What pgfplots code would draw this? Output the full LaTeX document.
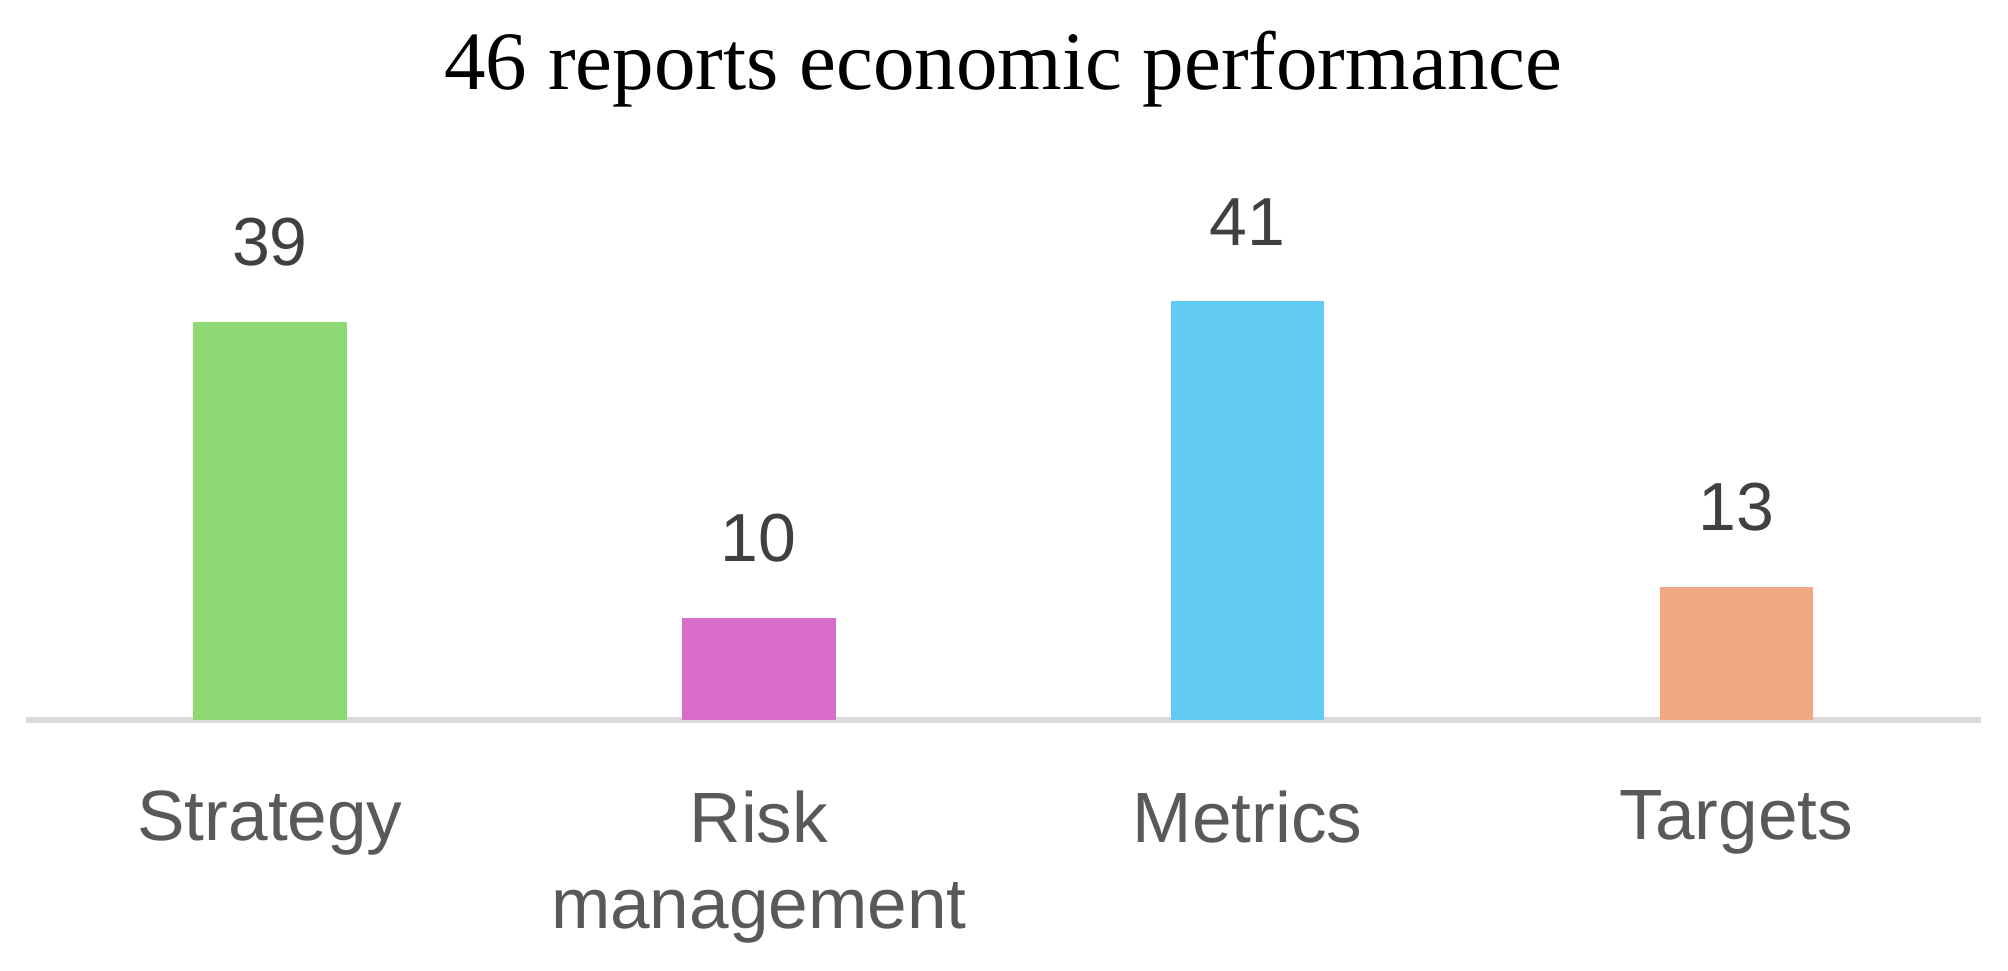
\documentclass[border=0pt]{standalone}
\usepackage{pgfplots}
\pgfplotsset{compat=1.18}
\usepackage{fontspec}
\setmainfont{Liberation Sans}
\newfontfamily\titlefont{Liberation Serif}
\definecolor{barGreen}{HTML}{8ED973}
\definecolor{barMagenta}{HTML}{D86DCB}
\definecolor{barCyan}{HTML}{61CBF3}
\definecolor{barOrange}{HTML}{F1A983}
\definecolor{axisGray}{HTML}{D9D9D9}
\definecolor{valText}{HTML}{404040}
\definecolor{catText}{HTML}{595959}
\begin{document}
\begin{tikzpicture}
\path[use as bounding box] (0,0) rectangle (502pt,242.75pt);
\begin{axis}[
    at={(6.4pt,62.85pt)}, anchor=south west,
    scale only axis,
    width=488.8pt, height=153pt,
    xmin=-0.5, xmax=3.5,
    ymin=0, ymax=60,
    ybar, bar width=38.4pt,
    axis x line=bottom, axis y line=none,
    x axis line style={-, draw=axisGray, line width=1.5pt},
    xtick={0,1,2,3},
    xticklabels={Strategy,{Risk\\management},Metrics,Targets},
    major tick length=0pt,
    ytick=\empty,
    xticklabel style={align=center, anchor=north, inner sep=0pt, yshift=-17.6pt,
        font=\fontsize{17.8}{21.5}\selectfont, text=catText},
    /pgf/number format/assume math mode=true,
    nodes near coords,
    every node near coord/.append style={anchor=base, inner sep=0pt, yshift=14pt,
        font=\fontsize{17}{19}\selectfont, text=valText},
    clip=false,
]
    % Strategy
    \addplot[fill=barGreen, draw=none, bar shift=0pt] coordinates {(0,39)};
    % Risk management
    \addplot[fill=barMagenta, draw=none, bar shift=0pt] coordinates {(1,10)};
    % Metrics
    \addplot[fill=barCyan, draw=none, bar shift=0pt] coordinates {(2,41)};
    % Targets
    \addplot[fill=barOrange, draw=none, bar shift=0pt] coordinates {(3,13)};
\end{axis}
\node[anchor=base, yshift=4.5pt, font=\titlefont\fontsize{20.75}{24}\selectfont]
    at (current axis.north) {46 reports economic performance};
\end{tikzpicture}
\end{document}
